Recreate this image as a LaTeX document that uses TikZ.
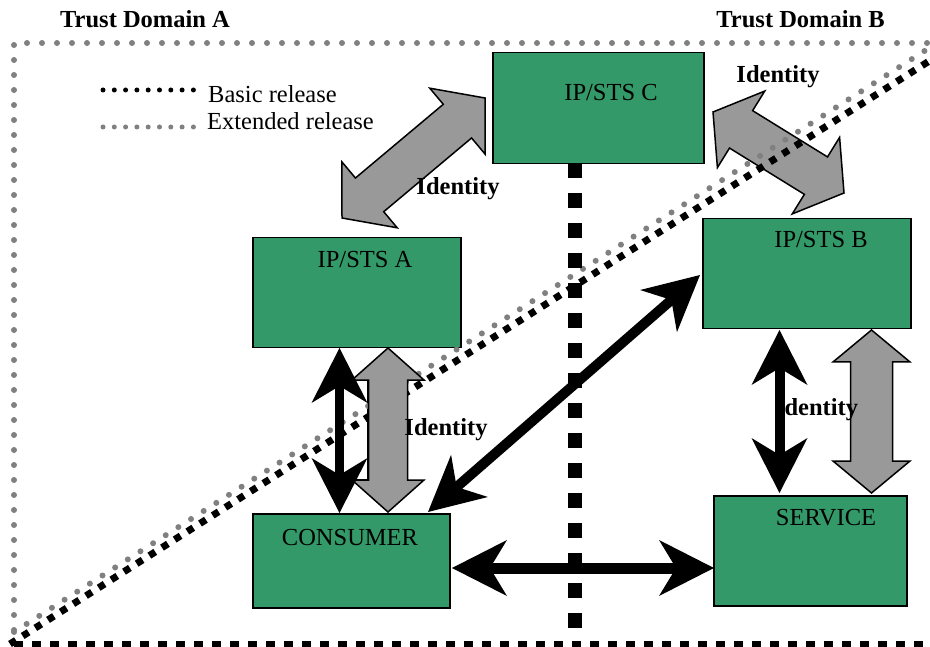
\documentclass[tikz,border=0pt]{standalone}
\usepackage{fontspec}
\setmainfont{Liberation Serif}
\usetikzlibrary{arrows.meta,calc}
\definecolor{boxgreen}{RGB}{52,153,104}
\definecolor{arrgray}{RGB}{153,153,153}
\definecolor{dotgray}{RGB}{128,128,128}
\newcommand\blockarr[5]{%
  \path ($(#1)!#5!(#2)$) coordinate (p1) ($(#2)!#5!(#1)$) coordinate (p2);
  \draw[garrow] (#1) -- ($(p1)!#4!90:(#2)$) -- ($(p1)!#3!90:(#2)$)
    -- ($(p2)!#3!-90:(#1)$) -- ($(p2)!#4!-90:(#1)$) -- (#2)
    -- ($(p2)!#4!90:(#1)$) -- ($(p2)!#3!90:(#1)$)
    -- ($(p1)!#3!-90:(#2)$) -- ($(p1)!#4!-90:(#2)$) -- cycle;}
\begin{document}
\begin{tikzpicture}[x=1pt,y=-1pt,
  box/.style={draw=black, line width=1.5pt, fill=boxgreen, inner sep=0pt, anchor=north west},
  lbl/.style={font=\fontsize{24.5}{29}\selectfont, inner sep=0pt, anchor=base},
  idl/.style={font=\fontsize{24.5}{29}\selectfont\bfseries, inner sep=0pt, anchor=base},
  garrow/.style={draw=black, line width=1.5pt, fill=arrgray, line join=miter},
  graydots/.style={draw=dotgray, line width=6pt, line cap=round, dash pattern=on 0pt off 15pt},
  blackarr/.style={line width=10pt,
    {Stealth[length=55pt,width=56pt,inset=17pt,line width=0pt]}-{Stealth[length=55pt,width=56pt,inset=17pt,line width=0pt]}}
]
\useasboundingbox (0,0) rectangle (930,647);

% titles and legend
\node[idl, anchor=base west] (tda) at (60,28) {Trust Domain A};
\node[idl, anchor=base east] (tdb) at (885,28) {Trust Domain B};
\coordinate (lb1) at (103,90); \coordinate (lb2) at (194,90);
\coordinate (le1) at (103,127); \coordinate (le2) at (194,127);
\draw[black, line width=5pt, line cap=round, dash pattern=on 0pt off 11.3pt] (lb1) -- (lb2);
\draw[dotgray, line width=5pt, line cap=round, dash pattern=on 0pt off 11.3pt] (le1) -- (le2);
\node[lbl, anchor=base west] (basic) at (208,103) {Basic release};
\node[lbl, anchor=base west] (ext) at (207,130) {Extended release};

% border of trust domain A
\coordinate (bl) at (14,630); \coordinate (tl) at (14,43); \coordinate (tr) at (932,43);
\draw[graydots] (bl) -- (tl) -- (tr);
\coordinate (bb1) at (14,644); \coordinate (bb2) at (932,644);
\draw[black, line width=7pt, dash pattern=on 8.5pt off 9.5pt] (bb1) -- (bb2);

% boxes
\node[box, minimum width=211pt, minimum height=111pt] (C) at (492,52) {};
\node[box, minimum width=208pt, minimum height=110pt] (A) at (252,237) {};
\node[box, minimum width=208pt, minimum height=110pt] (B) at (702,218) {};
\node[box, minimum width=197pt, minimum height=94pt] (CO) at (252,513) {};
\node[box, minimum width=193pt, minimum height=110pt] (S) at (713,495) {};

% C - B identity arrow (under the diagonals)
\coordinate (cb1) at (713,112); \coordinate (cb2) at (844,193);
\blockarr{cb1}{cb2}{22pt}{45pt}{33pt}

% white rectangle beside A-consumer arrow
\coordinate (w1) at (343,380); \coordinate (w2) at (368,480);
\draw[black, line width=1.5pt, fill=white] (w1) rectangle (w2);

% diagonals
\coordinate (dg1) at (14,632); \coordinate (dg2) at (926,50);
\draw[graydots] (dg1) -- (dg2);
\coordinate (db1) at (10,644); \coordinate (db2) at (934,58);
\draw[black, line width=7pt, dash pattern=on 7pt off 8pt] (db1) -- (db2);

% vertical separator
\coordinate (v1) at (575,163); \coordinate (v2) at (575,629);
\draw[black, line width=14pt, dash pattern=on 15pt off 15pt] (v1) -- (v2);

% other gray identity arrows
\coordinate (ca1) at (485,98); \coordinate (ca2) at (342,218);
\blockarr{ca1}{ca2}{22pt}{43pt}{36pt}
\coordinate (ac1) at (388,348); \coordinate (ac2) at (388,512);
\blockarr{ac1}{ac2}{19.5pt}{36pt}{32pt}
\coordinate (bs1) at (871.5,330); \coordinate (bs2) at (871.5,493);
\blockarr{bs1}{bs2}{21pt}{38.5pt}{32pt}

% labels
\node[lbl] (tC) at (611,101) {IP/STS C};
\node[lbl] (tA) at (365,268) {IP/STS A};
\node[lbl] (tB) at (821,248) {IP/STS B};
\node[lbl] (tCO) at (350,545) {CONSUMER};
\node[lbl] (tS) at (826,525) {SERVICE};
\node[idl] (id1) at (458,195) {Identity};
\node[idl] (id2) at (778,83) {Identity};
\node[idl] (id3) at (446,435) {Identity};
\node[idl] (id4) at (816.5,415) {Identity};

% black arrows
\coordinate (ka1) at (339.5,348); \coordinate (ka2) at (339.5,513);
\draw[blackarr, line width=9pt] (ka1) -- (ka2);
\coordinate (kb1) at (779.5,330); \coordinate (kb2) at (779.5,493);
\draw[blackarr] (kb1) -- (kb2);
\coordinate (kd1) at (700,275); \coordinate (kd2) at (428,512);
\draw[blackarr] (kd1) -- (kd2);
\coordinate (kh1) at (452,568); \coordinate (kh2) at (714,568);
\draw[blackarr, line width=11pt] (kh1) -- (kh2);
\end{tikzpicture}
\end{document}
